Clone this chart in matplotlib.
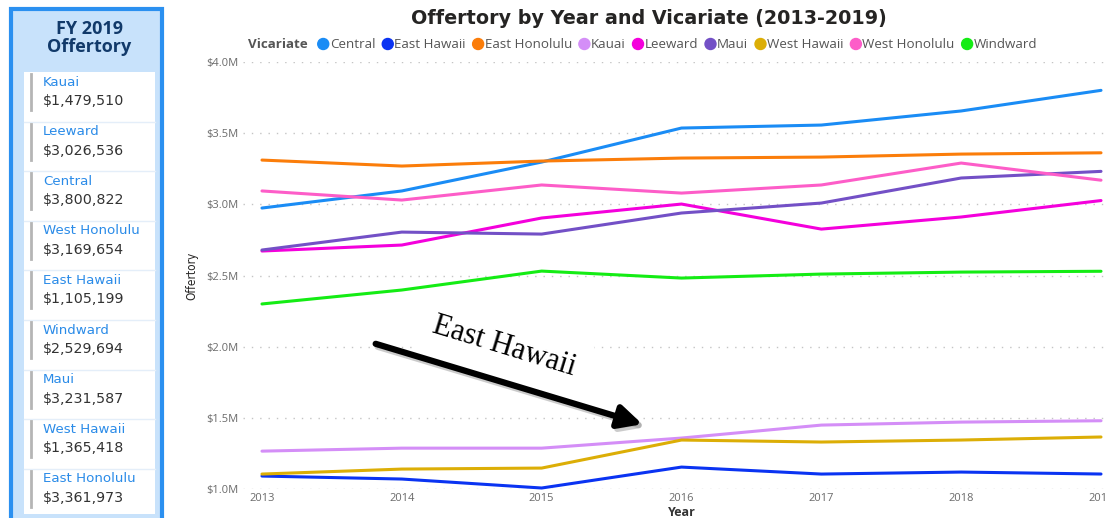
import numpy as np
import matplotlib
matplotlib.use('Agg')
import matplotlib.pyplot as plt
from matplotlib.patches import Rectangle, Circle
from matplotlib.ticker import FuncFormatter

# data (offertory in $M; 2019 from the FY 2019 card)
years = [2013, 2014, 2015, 2016, 2017, 2018, 2019]
central = [2.974, 3.094, 3.297, 3.536, 3.557, 3.656, 3.800822]
east_hawaii = [1.091, 1.070, 1.007, 1.154, 1.105, 1.119, 1.105199]
east_honolulu = [3.311, 3.269, 3.304, 3.325, 3.332, 3.353, 3.361973]
kauai = [1.266, 1.287, 1.287, 1.358, 1.449, 1.470, 1.479510]
leeward = [2.672, 2.714, 2.904, 3.002, 2.826, 2.911, 3.026536]
maui = [2.679, 2.805, 2.791, 2.939, 3.009, 3.185, 3.231587]
west_hawaii = [1.105, 1.140, 1.147, 1.344, 1.330, 1.344, 1.365418]
west_honolulu = [3.094, 3.030, 3.136, 3.079, 3.136, 3.290, 3.169654]
windward = [2.300, 2.398, 2.531, 2.482, 2.510, 2.524, 2.529694]

legend_names = ['Central', 'East Hawaii', 'East Honolulu', 'Kauai', 'Leeward',
                'Maui', 'West Hawaii', 'West Honolulu', 'Windward']
series = [central, east_hawaii, east_honolulu, kauai, leeward,
          maui, west_hawaii, west_honolulu, windward]
colors = ['#1a8cf5', '#0a33f2', '#fb7d0a', '#d48ef7', '#f400dc',
          '#7350c6', '#dcae06', '#fd5dc8', '#14ec14']

card_names = ['Kauai', 'Leeward', 'Central', 'West Honolulu', 'East Hawaii',
              'Windward', 'Maui', 'West Hawaii', 'East Honolulu']
card_values = [1479510, 3026536, 3800822, 3169654, 1105199,
               2529694, 3231587, 1365418, 3361973]

W, H = 1107, 518
fig = plt.figure(figsize=(W / 100, H / 100), dpi=100)

# main chart
ax = fig.add_axes([243 / W, 1 - 489 / H, (W - 243) / W, (489 - 62) / H])
for vals, col in zip(series, colors):
    ax.plot(years, vals, color=col, lw=2.2, solid_capstyle='round', clip_on=False, zorder=3)
ax.set_xlim(2013 - 19 / 140, 2019 + 6 / 140)
ax.set_ylim(1.0, 4.0)
ax.set_yticks(np.arange(1.0, 4.01, 0.5))
ax.set_xticks(years)
ax.yaxis.set_major_formatter(FuncFormatter(lambda v, p: f'${v:.1f}M'))
ax.grid(axis='y', color='#c4c4c4', linestyle=(0, (1, 5)), lw=1)
for s in ax.spines.values():
    s.set_visible(False)
ax.tick_params(length=0, colors='#6b6b6b', labelsize=8, pad=3)
for lab in ax.get_xticklabels() + ax.get_yticklabels():
    lab.set_family('Open Sans')

fig.text(649 / W, 1 - 18 / H, 'Offertory by Year and Vicariate (2013-2019)', ha='center',
         va='center', fontsize=13.8, fontweight='heavy', family='DejaVu Sans', color='#252423')
fig.text(192 / W, 1 - 276 / H, 'Offertory', rotation=90, ha='center', va='center',
         fontsize=8.5, fontstretch='condensed', color='#252423')
fig.text(682 / W, 1 - 512 / H, 'Year', ha='center', va='center', fontsize=9,
         fontweight='bold', family='Open Sans', color='#333333')

# legend laid out along one row
renderer = fig.canvas.get_renderer()
x = 248
t = fig.text(x / W, 1 - 44 / H, 'Vicariate', ha='left', va='center', fontsize=9.6,
             fontweight='bold', family='Open Sans', color='#555555')
x = t.get_window_extent(renderer).x1 + 10
for name, col in zip(legend_names, colors):
    fig.patches.append(Circle((x + 5.5, H - 44), 5.5, color=col, transform=None, figure=fig))
    t = fig.text((x + 12) / W, 1 - 44 / H, name, ha='left', va='center', fontsize=9.6,
                 family='Open Sans', color='#555555')
    x = t.get_window_extent(renderer).x1 + 7

# overlay axes in pixel coords for the card panel and annotation
ov = fig.add_axes([0, 0, 1, 1], zorder=5)
ov.set_xlim(0, W)
ov.set_ylim(H, 0)
ov.axis('off')

ov.add_patch(Rectangle((11, 9), 151, 520, facecolor='#c8e2fb', edgecolor='#2b90f0', lw=3))
ov.text(89, 29, 'FY 2019', ha='center', va='center', fontsize=13, fontweight='bold',
        family='Open Sans', color='#123a6a')
ov.text(89, 47, 'Offertory', ha='center', va='center', fontsize=13, fontweight='bold',
        family='Open Sans', color='#123a6a')
ov.add_patch(Rectangle((24, 72), 131, 442, facecolor='white', edgecolor='none'))

step = 49.6
for i, (name, val) in enumerate(zip(card_names, card_values)):
    ly = 82 + i * step
    if i > 0:
        ov.plot([24, 155], [ly - 10, ly - 10], color='#e4eef9', lw=1)
    ov.plot([31, 31], [ly - 8, ly + 28], color='#b5b5b5', lw=2)
    ov.text(43, ly, name, ha='left', va='center', fontsize=9.6,
            family='DejaVu Sans', color='#2a8be8')
    ov.text(43, ly + 19, f'${val:,}', ha='left', va='center', fontsize=10.3,
            family='DejaVu Sans', color='#333333')

ov.text(504, 347, 'East Hawaii', rotation=-17, rotation_mode='anchor', ha='center',
        va='center', fontsize=22, family='Liberation Serif', color='black',
        bbox=dict(facecolor='white', edgecolor='none', pad=9), zorder=4)
ov.annotate('', xy=(648, 428), xytext=(375, 346),
            arrowprops=dict(arrowstyle='-|>,head_length=0.7,head_width=0.35', lw=4.5,
                            color='#999999', alpha=0.5, mutation_scale=20), zorder=5)
ov.annotate('', xy=(645, 425), xytext=(373, 343),
            arrowprops=dict(arrowstyle='-|>,head_length=0.7,head_width=0.35', lw=4.5,
                            color='black', mutation_scale=20), zorder=6)

fig.savefig('out.png', dpi=100)
